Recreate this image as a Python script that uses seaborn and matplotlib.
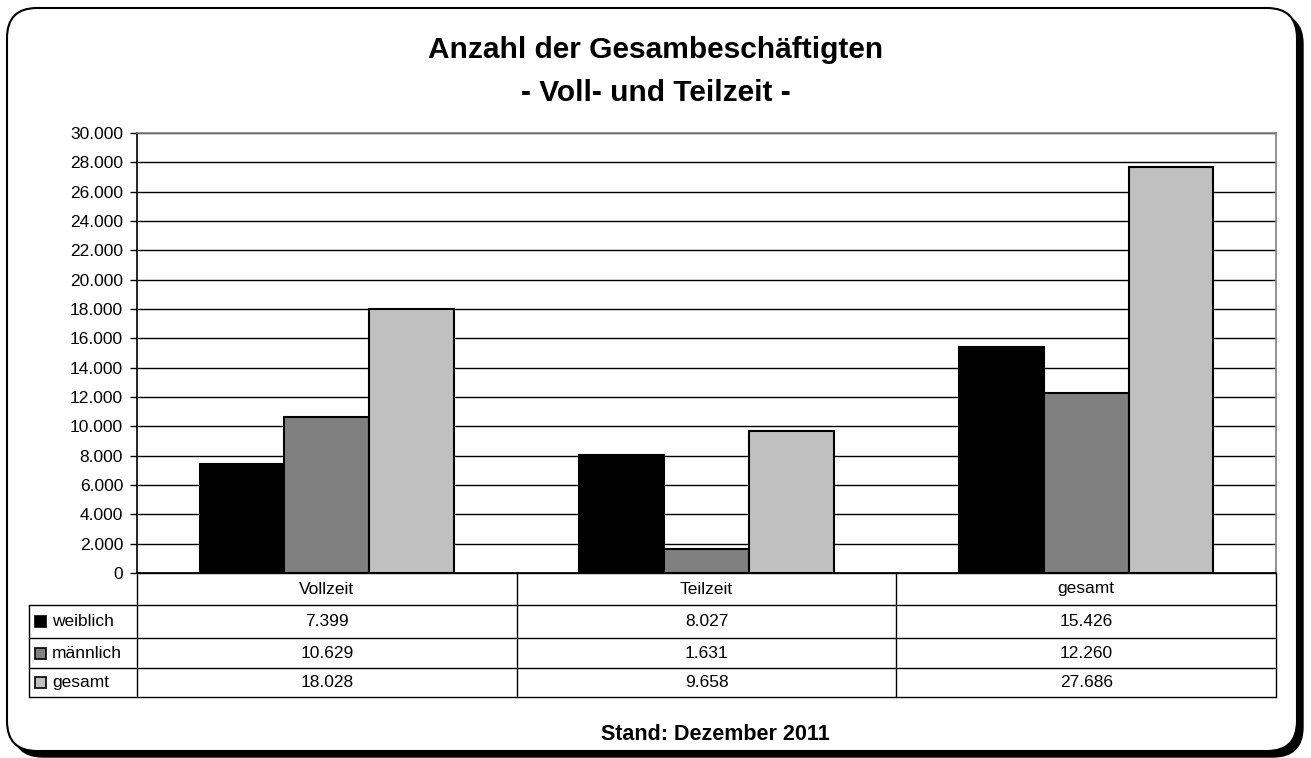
import matplotlib
matplotlib.use("Agg")
import matplotlib.pyplot as plt
from matplotlib.patches import FancyBboxPatch, Rectangle
from matplotlib.ticker import FuncFormatter, MultipleLocator
import seaborn as sns
import pandas as pd

categories = ["Vollzeit", "Teilzeit", "gesamt"]
series_names = ["weiblich", "männlich", "gesamt"]
weiblich = [7399, 8027, 15426]
maennlich = [10629, 1631, 12260]
gesamt = [18028, 9658, 27686]
series_values = [weiblich, maennlich, gesamt]
colors = ["#000000", "#808080", "#C0C0C0"]

title_lines = ["Anzahl der Gesambeschäftigten", "- Voll- und Teilzeit -"]
footer = "Stand: Dezember 2011"

def fmt(v):
    return f"{int(round(v)):,}".replace(",", ".")

sns.set_style("white")
plt.rcParams["font.family"] = ["Liberation Sans", "DejaVu Sans"]
plt.rcParams["text.color"] = "black"
plt.rcParams["ytick.color"] = "black"
plt.rcParams["ytick.labelcolor"] = "black"

rows = []
for s, vals in zip(series_names, series_values):
    for c, v in zip(categories, vals):
        rows.append({"Kategorie": c, "Serie": s, "Wert": v})
df = pd.DataFrame(rows)

W, H = 1311, 758
fig = plt.figure(figsize=(W / 100, H / 100), dpi=100)

# overlay for frame & table (pixel coords)
ov = fig.add_axes([0, 0, 1, 1], zorder=0)
ov.set_xlim(0, W)
ov.set_ylim(H, 0)
ov.axis("off")

shadow = FancyBboxPatch((13, 14), 1303 - 13, 757 - 14, boxstyle="round,pad=0,rounding_size=30",
                        facecolor="black", edgecolor="black", lw=1)
ov.add_patch(shadow)
frame = FancyBboxPatch((7, 8), 1297 - 7, 751 - 8, boxstyle="round,pad=0,rounding_size=30",
                       facecolor="white", edgecolor="black", lw=1.5)
ov.add_patch(frame)

ax_l, ax_r, ax_t, ax_b = 137, 1276, 133, 573
ax = fig.add_axes([ax_l / W, 1 - ax_b / H, (ax_r - ax_l) / W, (ax_b - ax_t) / H], zorder=2)
ax.patch.set_alpha(0)

sns.barplot(data=df, x="Kategorie", y="Wert", hue="Serie", order=categories,
            hue_order=series_names, palette=colors, width=0.67, gap=0,
            edgecolor="black", linewidth=1.5, ax=ax, legend=False, zorder=3)

ax.set_ylim(0, 30000)
ax.set_xlim(-0.5, 2.5)
ax.yaxis.set_major_locator(MultipleLocator(2000))
ax.yaxis.set_major_formatter(FuncFormatter(lambda v, p: fmt(v)))
ax.grid(axis="y", color="black", lw=1, zorder=0)
ax.set_axisbelow(True)
ax.set_xlabel("")
ax.set_ylabel("")
ax.set_xticks([])
ax.tick_params(axis="y", left=True, length=5, width=1, color="black", labelsize=12.5, pad=5)
for side in ["left", "bottom"]:
    ax.spines[side].set_color("black")
    ax.spines[side].set_linewidth(1.2)
for side in ["top", "right"]:
    ax.spines[side].set_color("#808080")
    ax.spines[side].set_linewidth(1.2)

# data table under the chart
row_y = [573, 605, 638, 668, 697]
tab_left = 29
col_x = [ax_l + (ax_r - ax_l) * i / 3 for i in range(4)]
lc = "black"
lw = 1.0
ov.plot([col_x[0], col_x[-1]], [row_y[0], row_y[0]], color=lc, lw=lw)
for yy in row_y[1:]:
    ov.plot([tab_left, col_x[-1]], [yy, yy], color=lc, lw=lw)
ov.plot([tab_left, tab_left], [row_y[1], row_y[-1]], color=lc, lw=lw)
for xx in col_x:
    ov.plot([xx, xx], [row_y[0], row_y[-1]], color=lc, lw=lw)

fs_tab = 12.5
for i, c in enumerate(categories):
    cx = (col_x[i] + col_x[i + 1]) / 2
    ov.text(cx, (row_y[0] + row_y[1]) / 2, c, ha="center", va="center", fontsize=fs_tab)
for r, (s, vals, col) in enumerate(zip(series_names, series_values, colors)):
    cy = (row_y[r + 1] + row_y[r + 2]) / 2
    ov.add_patch(Rectangle((35, cy - 5.5), 11, 11, facecolor=col, edgecolor="black", lw=1.2))
    ov.text(52, cy, s, ha="left", va="center", fontsize=fs_tab)
    for i, v in enumerate(vals):
        cx = (col_x[i] + col_x[i + 1]) / 2
        ov.text(cx, cy, fmt(v), ha="center", va="center", fontsize=fs_tab)

fig.text(0.5, 1 - 50 / H, title_lines[0], ha="center", va="center",
         fontsize=21.5, fontweight="bold")
fig.text(0.5, 1 - 93 / H, title_lines[1], ha="center", va="center",
         fontsize=21.5, fontweight="bold")
fig.text(715 / W, 1 - 735 / H, footer, ha="center", va="center", fontsize=15.5, fontweight="bold")

fig.savefig("out.png", dpi=100)
